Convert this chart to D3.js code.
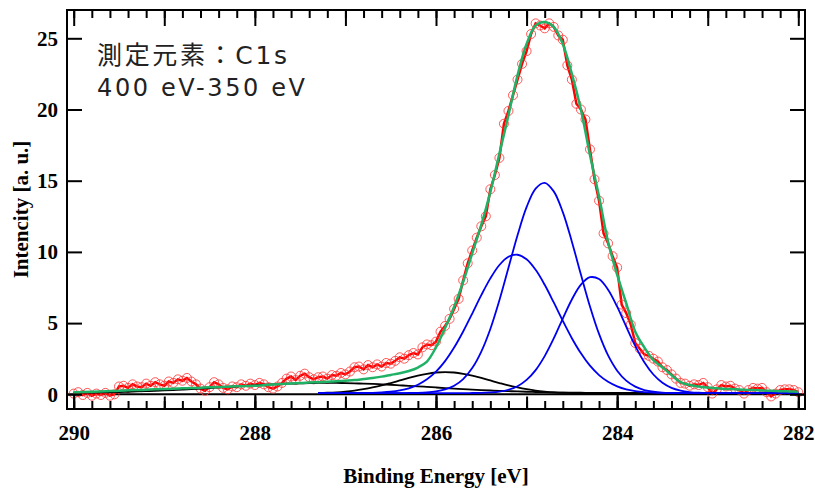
<!DOCTYPE html>
<html>
<head>
<meta charset="utf-8">
<script src="https://cdn.jsdelivr.net/npm/d3@7"></script>
<style>
  body { margin: 0; background: #fff; }
  svg { display: block; }
</style>
</head>
<body>
<svg id="chart" width="815" height="493"></svg>
<script>
// ------------------------------------------
// Data (binding energy in eV, intensity in a. u.)
// ------------------------------------------

// measured spectrum, 290.00 eV down to 282.00 eV every 0.05 eV (one row = 0.5 eV)
const measuredStart = 290.0
const measuredStep = 0.05
const measured = [
  0.05, 0.15, -0.05, 0.1, -0.1, 0.05, -0.05, 0.1, -0.1, 0.0,
  0.55, 0.6, 0.45, 0.7, 0.55, 0.5, 0.75, 0.6, 0.85, 0.7,
  0.6, 0.9, 0.8, 1.05, 0.95, 1.15, 0.9, 0.7, 0.4, 0.25,
  0.5, 0.85, 0.7, 0.45, 0.35, 0.55, 0.5, 0.7, 0.6, 0.75,
  0.65, 0.8, 0.7, 0.5, 0.4, 0.55, 0.8, 1.1, 1.25, 1.0,
  1.3, 1.45, 1.2, 1.05, 1.2, 1.25, 1.1, 1.35, 1.3, 1.5,
  1.4, 1.6, 1.9, 1.95, 1.75, 2.05, 1.9, 2.1, 1.95, 2.2,
  2.15, 2.35, 2.6, 2.5, 2.75, 2.9, 2.8, 3.3, 3.5, 3.45,
  3.7, 4.4, 4.8, 5.3, 6.0, 6.7, 8.0, 9.2, 10.1, 11.0,
  11.8, 12.5, 14.4, 15.4, 16.6, 19.0, 19.9, 21.0, 22.1, 23.2,
  24.1, 25.3, 26.05, 25.9, 25.7, 26.05, 25.8, 25.2, 24.9, 23.1,
  22.1, 20.4, 20.0, 19.3, 17.2, 15.1, 13.6, 11.3, 10.6, 9.7,
  8.9, 6.3, 5.7, 4.9, 3.6, 3.2, 2.8, 2.7, 2.5, 2.3,
  1.9, 1.7, 1.4, 1.1, 0.8, 0.75, 0.6, 0.7, 0.65, 0.8,
  0.5, 0.05, 0.35, 0.65, 0.55, 0.6, 0.4, 0.3, 0.05, 0.3,
  0.45, 0.4, 0.45, 0.15, -0.15, 0.05, 0.3, 0.35, 0.35, 0.3,
  0.15
]

// fitted envelope, 290.0 eV down to 282.0 eV every 0.1 eV (one row = 1 eV)
const fitStart = 290.0
const fitStep = 0.1
const envelope = [
  0.14, 0.16, 0.18, 0.20, 0.23, 0.25, 0.28, 0.30, 0.32, 0.35,
  0.37, 0.39, 0.42, 0.44, 0.46, 0.49, 0.51, 0.53, 0.56, 0.58,
  0.60, 0.64, 0.68, 0.72, 0.76, 0.79, 0.82, 0.85, 0.88, 0.92,
  0.96, 1.00, 1.07, 1.14, 1.24, 1.36, 1.48, 1.64, 1.88, 2.30,
  3.30, 4.65, 6.15, 7.90, 9.90, 11.9, 14.2, 16.9, 19.6, 22.4,
  24.6, 25.9, 26.15, 25.8, 24.6, 22.5, 20.0, 16.8, 13.9, 10.7,
  8.4, 6.4, 4.4, 3.3, 2.4, 1.9, 1.35, 0.85, 0.65, 0.55,
  0.47, 0.42, 0.38, 0.35, 0.32, 0.30, 0.27, 0.25, 0.22, 0.20,
  0.18
]

// broad component on the high energy side, same grid as the envelope
const broadPeak = [
  0.11, 0.12, 0.12, 0.13, 0.15, 0.16, 0.18, 0.20, 0.22, 0.24,
  0.27, 0.30, 0.33, 0.36, 0.40, 0.44, 0.48, 0.52, 0.56, 0.59,
  0.63, 0.67, 0.70, 0.73, 0.75, 0.77, 0.79, 0.80, 0.80, 0.80,
  0.79, 0.77, 0.75, 0.73, 0.70, 0.67, 0.63, 0.59, 0.56, 0.52,
  0.48, 0.44, 0.40, 0.36, 0.33, 0.30, 0.27, 0.24, 0.22, 0.20,
  0.18, 0.16, 0.15, 0.13, 0.12, 0.11, 0.11, 0.10, 0.10, 0.09,
  0.09, 0.09, 0.09, 0.09, 0.09, 0.09, 0.09, 0.09, 0.09, 0.09,
  0.08, 0.08, 0.08, 0.08, 0.08, 0.08, 0.08, 0.08, 0.08, 0.08,
  0.08
]

// the other components, 287.3 eV down to 282.0 eV every 0.1 eV
const compStart = 287.3
const compStep = 0.1
const peakMain = [
  0.08, 0.08, 0.08, 0.08, 0.08, 0.08, 0.08, 0.08, 0.08, 0.08,
  0.09, 0.10, 0.13, 0.20, 0.34, 0.60, 1.07, 1.84, 3.00, 4.59,
  6.60, 8.88, 11.17, 13.14, 14.45, 14.85, 14.25, 12.79, 10.72, 8.41,
  6.17, 4.24, 2.73, 1.66, 0.96, 0.54, 0.30, 0.18, 0.12, 0.10,
  0.09,
  0.08, 0.08, 0.08, 0.08, 0.08, 0.08, 0.08, 0.08, 0.08, 0.08, 0.08, 0.08, 0.08
]
const peakHigh = [
  0.08, 0.08, 0.08, 0.08, 0.085, 0.09, 0.10, 0.13, 0.18, 0.27,
  0.42, 0.67, 1.05, 1.59, 2.33, 3.28, 4.41, 5.67, 6.96, 8.14,
  9.08, 9.66, 9.80, 9.48, 8.74, 7.69, 6.45, 5.16, 3.94, 2.88,
  2.01, 1.35, 0.88, 0.56, 0.35, 0.23, 0.16, 0.12, 0.10, 0.09,
  0.08,
  0.08, 0.08, 0.08, 0.08, 0.08, 0.08, 0.08, 0.08, 0.08, 0.08, 0.08, 0.08, 0.08
]
const peakLow = [
  0.08, 0.08, 0.08, 0.08, 0.08, 0.08, 0.08, 0.08, 0.08, 0.08,
  0.08, 0.08, 0.08, 0.08, 0.08, 0.08, 0.08, 0.09, 0.10, 0.13,
  0.19, 0.32, 0.57, 1.01, 1.70, 2.68, 3.92, 5.32, 6.66, 7.70,
  8.22, 8.09, 7.34, 6.15, 4.75, 3.40, 2.25, 1.39, 0.81, 0.45,
  0.26,
  0.16, 0.11, 0.09, 0.085, 0.08, 0.08, 0.08, 0.08, 0.08, 0.08, 0.08, 0.08, 0.08
]
const peakOxide = [
  0.09, 0.11, 0.14, 0.19, 0.26, 0.36, 0.48, 0.62, 0.79, 0.97,
  1.15, 1.31, 1.44, 1.53, 1.56, 1.53, 1.44, 1.31, 1.15, 0.97,
  0.79, 0.62, 0.48, 0.36, 0.26, 0.19, 0.14, 0.11, 0.09, 0.08,
  0.07, 0.065, 0.06, 0.06, 0.06, 0.06, 0.06, 0.06, 0.06, 0.06,
  0.06,
  0.06, 0.06, 0.06, 0.06, 0.06, 0.06, 0.06, 0.06, 0.06, 0.06, 0.06, 0.06, 0.06
]

const xTickLabels = [290, 288, 286, 284, 282]
const yTickLabels = [0, 5, 10, 15, 20, 25]
const noteLines = ["測定元素：C1s", "400 eV-350 eV"]
const xTitle = "Binding Energy [eV]"
const yTitle = "Intencity [a. u.]"

// ------------------------------------------
// Layout
// ------------------------------------------

const frame = {left: 67, top: 10, right: 805, bottom: 409}
const serif = '"Times New Roman", "Liberation Serif", serif'

const x = d3.scaleLinear().domain([290, 282]).range([73.7, 798.3])
const y = d3.scaleLinear().domain([0, 25]).range([394.3, 38.3])

const svg = d3.select("#chart")

const toPoints = (start, step, values) =>
  values.map((v, i) => ({e: +(start - step * i).toFixed(2), v: v}))

svg.append("clipPath").attr("id", "plot-clip")
  .append("rect")
  .attr("x", frame.left).attr("y", frame.top)
  .attr("width", frame.right - frame.left).attr("height", frame.bottom - frame.top)

const plot = svg.append("g").attr("clip-path", "url(#plot-clip)")

// zero line
plot.append("line")
  .attr("x1", frame.left).attr("x2", frame.right)
  .attr("y1", y(0)).attr("y2", y(0))
  .attr("stroke", "#000").attr("stroke-width", 2)

const smooth = d3.line().x(d => x(d.e)).y(d => y(d.v)).curve(d3.curveCatmullRom.alpha(0.5))
const straight = d3.line().x(d => x(d.e)).y(d => y(d.v))

// measured data: connecting line and open circles
const measuredPoints = toPoints(measuredStart, measuredStep, measured)

plot.append("path")
  .attr("d", straight(measuredPoints))
  .attr("fill", "none").attr("stroke", "#ff0000").attr("stroke-width", 2.5)

plot.append("g").selectAll("circle")
  .data(measuredPoints)
  .join("circle")
  .attr("cx", d => x(d.e)).attr("cy", d => y(d.v)).attr("r", 4.5)
  .attr("fill", "none").attr("stroke", "#ff3c3c").attr("stroke-opacity", 0.85).attr("stroke-width", 1)

// components
const blackComponents = [
  toPoints(fitStart, fitStep, broadPeak),
  toPoints(compStart, compStep, peakOxide)
]
const blueComponents = [
  toPoints(compStart, compStep, peakHigh),
  toPoints(compStart, compStep, peakLow),
  toPoints(compStart, compStep, peakMain)
]

plot.append("g").selectAll("path")
  .data(blackComponents)
  .join("path")
  .attr("d", smooth)
  .attr("fill", "none").attr("stroke", "#000").attr("stroke-width", 1.8)

plot.append("g").selectAll("path")
  .data(blueComponents)
  .join("path")
  .attr("d", smooth)
  .attr("fill", "none").attr("stroke", "#0000f0").attr("stroke-width", 1.8)

// envelope
plot.append("path")
  .attr("d", smooth(toPoints(fitStart, fitStep, envelope)))
  .attr("fill", "none").attr("stroke", "#1fb266").attr("stroke-width", 2.5)

// ------------------------------------------
// Axes
// ------------------------------------------

const minorTicks = d3.range(1410, 1451).map(k => k / 5)
const unitTicks = d3.range(282, 291)

function styleAxis(g, showLabels) {
  g.select(".domain").remove()
  g.selectAll(".tick line").attr("stroke", "#000").attr("stroke-width", 2)
  g.selectAll(".tick text")
    .attr("fill", "#000")
    .style("font-family", serif).style("font-weight", "bold").style("font-size", "21px")
  if (!showLabels) g.selectAll(".tick text").remove()
}

function addAxis(axis, tx, ty, showLabels) {
  svg.append("g")
    .attr("transform", `translate(${tx},${ty})`)
    .call(axis)
    .call(g => styleAxis(g, showLabels))
}

// bottom: minor, 1 eV, 2 eV with labels
addAxis(d3.axisBottom(x).tickValues(minorTicks).tickSize(-8), 0, frame.bottom, false)
addAxis(d3.axisBottom(x).tickValues(unitTicks).tickSize(-12.5), 0, frame.bottom, false)
addAxis(d3.axisBottom(x).tickValues(xTickLabels).tickSize(-15).tickPadding(16).tickFormat(d3.format("d")), 0, frame.bottom, true)

// top: minor and 1 eV
addAxis(d3.axisTop(x).tickValues(minorTicks).tickSize(-8), 0, frame.top, false)
addAxis(d3.axisTop(x).tickValues(unitTicks).tickSize(-16), 0, frame.top, false)

// left and right
addAxis(d3.axisLeft(y).tickValues(yTickLabels).tickSize(-15).tickPadding(9).tickFormat(d3.format("d")), frame.left, 0, true)
addAxis(d3.axisRight(y).tickValues(yTickLabels).tickSize(-15), frame.right, 0, false)

// frame
svg.append("rect")
  .attr("x", frame.left).attr("y", frame.top)
  .attr("width", frame.right - frame.left).attr("height", frame.bottom - frame.top)
  .attr("fill", "none").attr("stroke", "#000").attr("stroke-width", 2)

// titles
svg.append("text")
  .attr("x", (frame.left + frame.right) / 2).attr("y", 483)
  .attr("text-anchor", "middle")
  .style("font-family", serif).style("font-weight", "bold").style("font-size", "21px")
  .text(xTitle)

svg.append("text")
  .attr("transform", `translate(28,${(frame.top + frame.bottom) / 2}) rotate(-90)`)
  .attr("text-anchor", "middle")
  .style("font-family", serif).style("font-weight", "bold").style("font-size", "21px")
  .text(yTitle)

// note in the upper left corner
const noteWidths = [190, 208]
const noteSizes = [25, 24]
svg.append("g").selectAll("text")
  .data(noteLines)
  .join("text")
  .attr("x", 97)
  .attr("y", (d, i) => 64 + i * 32)
  .attr("textLength", (d, i) => noteWidths[i])
  .attr("lengthAdjust", "spacing")
  .attr("fill", "#222")
  .style("font-family", '"DejaVu Sans", "Noto Sans CJK JP", sans-serif')
  .style("font-size", (d, i) => noteSizes[i] + "px")
  .text(d => d)
</script>
</body>
</html>
